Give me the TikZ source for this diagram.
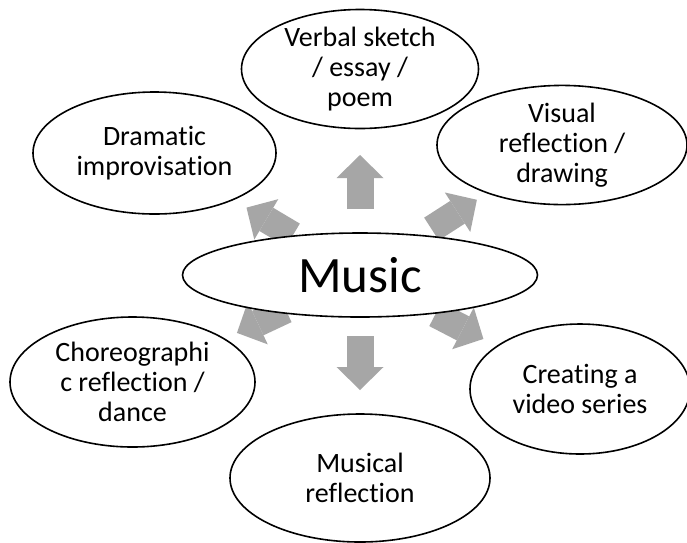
\documentclass[tikz,border=0pt]{standalone}
\usepackage{fontspec}
\setmainfont{Carlito}[Ligatures=CommonOff]
\usetikzlibrary{shapes.geometric, arrows.meta, calc, backgrounds}
\definecolor{arrowgray}{RGB}{166,166,166}
\tikzstyle{bubble} = [ellipse, draw, line width=1.6pt, fill=white,
                 inner sep=0pt, align=center, font=\fontsize{28}{30}\selectfont]
\tikzstyle{flow} = [draw=arrowgray, line width=27pt,
                 -{Triangle[width=47pt,length=23pt,line width=0pt]}]

\begin{document}
\begin{tikzpicture}[x=1pt,y=1pt]
\useasboundingbox (0,0) rectangle (687,-542);

\node [bubble, minimum width=355pt, minimum height=84pt,
       font=\fontsize{51}{60}\selectfont] at (360,-275) (music) {Music};

\node [bubble, minimum width=237pt, minimum height=119pt] at (360,-69) (verbal) {Verbal sketch\\/ essay /\\poem};
\node [bubble, minimum width=243pt, minimum height=122pt] at (154.5,-153) (dram) {Dramatic\\improvisation};
\node [bubble, minimum width=250pt, minimum height=104pt] at (562,-145) (visual) {Visual\\reflection /\\drawing};
\node [bubble, minimum width=245pt, minimum height=130pt] at (132.5,-382) (choreo) {Choreographi\\c reflection /\\dance};
\node [bubble, minimum width=220pt, minimum height=130pt] at (580,-389) (video) {Creating a\\video series};
\node [bubble, minimum width=260pt, minimum height=128pt] at (360,-478) (musical) {Musical\\reflection};

	%arrows out of the centre
\begin{scope}[on background layer]
\fill [white] (0,0) rectangle (687,-542);
\foreach \target/\tail/\tip in {verbal/66pt/120pt, musical/61pt/115pt, dram/78pt/132pt,
                               visual/85pt/139pt, choreo/82pt/136pt, video/85pt/139pt}
	\draw [flow] ($(music.center)!\tail!(\target.center)$) -- ($(music.center)!\tip!(\target.center)$);
\end{scope}

\end{tikzpicture}
\end{document}
